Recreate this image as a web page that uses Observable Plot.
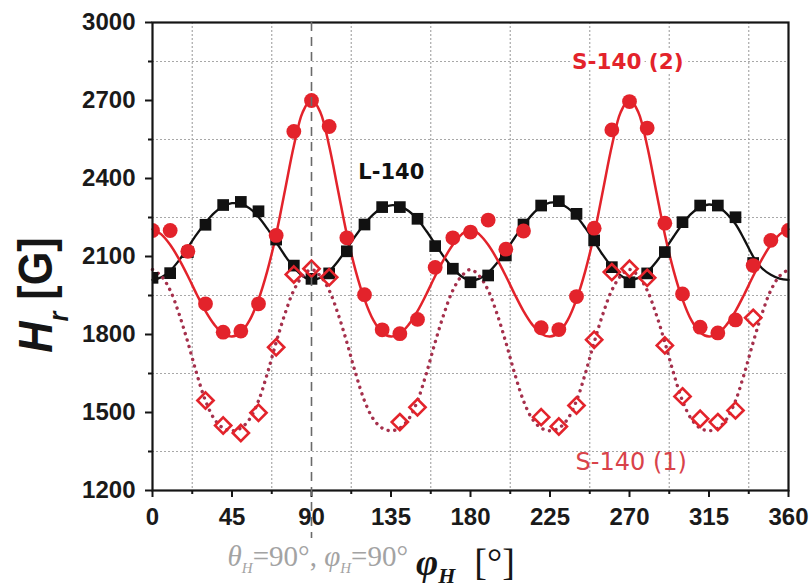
<!DOCTYPE html>
<html>
<head>
<meta charset="utf-8">
<script src="https://cdn.jsdelivr.net/npm/d3@7"></script>
<script src="https://cdn.jsdelivr.net/npm/@observablehq/plot@0.6"></script>
<style>
  html, body { margin: 0; padding: 0; background: #fff; }
  #chart { width: 810px; height: 587px; }
  svg { display: block; }
</style>
</head>
<body>
<div id="chart"></div>
<script>
// ---------- data ----------
// L-140 (black squares)
const l140Phi = [0,10,20,30,40,50,60,70,80,90,100,110,120,130,140,150,160,170,180,190,200,210,220,230,240,250,260,270,280,290,300,310,320,330,340];
const l140H   = [2018,2036,2117,2222,2298,2310,2274,2165,2065,2014,2035,2120,2223,2290,2290,2245,2140,2053,2001,2027,2104,2223,2296,2313,2264,2162,2059,2001,2035,2117,2232,2296,2296,2251,2075];

// S-140 (2) (red filled circles)
const s2Phi = [0,10,20,30,40,50,60,70,80,90,100,110,120,130,140,150,160,170,180,190,200,210,220,230,240,250,260,270,280,290,300,310,320,330,340,350,360];
const s2H   = [2200,2200,2120,1918,1809,1813,1918,2181,2581,2700,2600,2172,1953,1818,1803,1858,2058,2172,2194,2240,2128,2198,1826,1819,1946,2209,2587,2696,2594,2228,1956,1828,1806,1856,2065,2162,2200];

// S-140 (1) (open diamonds)
const s1Phi = [30,40,50,60,70,80,90,100,140,150,220,230,240,250,260,270,280,290,300,310,320,330,340];
const s1H   = [1546,1450,1421,1499,1751,2031,2053,2020,1463,1520,1482,1446,1527,1780,2040,2053,2018,1758,1562,1476,1463,1508,1864];

// fitted curves, read every 5 degrees
const fitPhi = [0,5,10,15,20,25,30,35,40,45,50,55,60,65,70,75,80,85,90,95,100,105,110,115,120,125,130,135,140,145,150,155,160,165,170,175,180,185,190,195,200,205,210,215,220,225,230,235,240,245,250,255,260,265,270,275,280,285,290,295,300,305,310,315,320,325,330,335,340,345,350,355,360];
const l140Fit = [2010,2020,2045,2085,2135,2185,2230,2268,2293,2305,2302,2285,2252,2207,2155,2103,2058,2025,2010,
                 2018,2043,2082,2130,2180,2225,2262,2287,2297,2293,2275,2243,2198,2148,2098,2055,2023,2008,
                 2015,2038,2075,2122,2172,2220,2262,2292,2307,2305,2287,2255,2210,2158,2105,2060,2027,2010,
                 2018,2040,2078,2125,2177,2225,2265,2290,2300,2292,2265,2225,2165,2100,2055,2030,2015,2010];
const s2Fit = [2205,2185,2145,2090,2025,1955,1890,1838,1803,1792,1808,1855,1935,2045,2185,2355,2525,2655,2705,
               2655,2525,2355,2185,2045,1935,1855,1808,1792,1803,1838,1890,1955,2025,2090,2145,2185,2205,
               2185,2145,2090,2025,1955,1890,1838,1803,1792,1808,1855,1935,2045,2185,2355,2525,2655,2705,
               2655,2525,2355,2185,2045,1935,1855,1808,1792,1803,1838,1890,1955,2025,2090,2145,2185,2205];
const s1Fit = [2050,2025,1970,1880,1770,1650,1545,1475,1440,1430,1440,1475,1545,1650,1770,1880,1970,2025,
               2050,2025,1970,1880,1770,1650,1545,1475,1440,1430,1440,1475,1545,1650,1770,1880,1970,2025,
               2050,2025,1970,1880,1770,1650,1545,1475,1440,1430,1440,1475,1545,1650,1770,1880,1970,2025,
               2050,2025,1970,1880,1770,1650,1545,1475,1440,1430,1440,1475,1545,1650,1770,1880,1970,2025,
               2050];

// ticks
const xMajor = [0,45,90,135,180,225,270,315,360];
const xMinor = [22.5,67.5,112.5,157.5,202.5,247.5,292.5,337.5];
const yMajor = [1200,1500,1800,2100,2400,2700,3000];
const yMinor = [1350,1650,1950,2250,2550,2850];

// guide line and series labels
const guidePhi = [90];
const guideFrom = [3000];
const guideTo = [1015];
const labelText = ["L-140", "S-140 (2)", "S-140 (1)"];
const labelPhi  = [116.5, 237.5, 239.5];
const labelH    = [2423, 2846, 1308];

// ---------- build tables ----------
const pts = (xs, ys) => xs.map((x, i) => ({phi: x, H: ys[i]}));
const l140 = pts(l140Phi, l140H);
const s2 = pts(s2Phi, s2H);
const s1 = pts(s1Phi, s1H);
const l140Curve = pts(fitPhi, l140Fit);
const s2Curve = pts(fitPhi, s2Fit);
const s1Curve = pts(fitPhi, s1Fit);
const guide = guidePhi.map((p, i) => ({phi: p, y1: guideFrom[i], y2: guideTo[i]}));
const labels = labelText.map((t, i) => ({text: t, phi: labelPhi[i], H: labelH[i]}));

const RED = "#e3232b";
const DOTRED = "#a5304c";
const SANS = "Liberation Sans, Arial, sans-serif";
const fmt = d3.format("d");

const svg = Plot.plot({
  width: 810,
  height: 587,
  marginLeft: 152,
  marginRight: 22,
  marginTop: 22,
  marginBottom: 97,
  style: {background: "#fff", color: "#151515", overflow: "visible"},
  x: {domain: [0, 360]},
  y: {domain: [1200, 3000]},
  marks: [
    Plot.ruleX(xMinor, {x: d => d, stroke: "#a8a8a8", strokeDasharray: "2 2", strokeWidth: 1.2}),
    Plot.ruleY(yMinor, {y: d => d, stroke: "#a8a8a8", strokeDasharray: "2 2", strokeWidth: 1.2}),
    Plot.line(l140Curve, {x: "phi", y: "H", curve: "catmull-rom", stroke: "#111", strokeWidth: 2.3}),
    Plot.line(s2Curve, {x: "phi", y: "H", curve: "catmull-rom", stroke: RED, strokeWidth: 2.5}),
    Plot.line(s1Curve, {x: "phi", y: "H", curve: "catmull-rom", stroke: DOTRED, strokeWidth: 3.4,
                        strokeDasharray: "0.1 6.6", strokeLinecap: "round"}),
    Plot.dot(l140, {x: "phi", y: "H", symbol: "square", r: 6.6, fill: "#111", stroke: "none", clip: true}),
    Plot.dot(s2, {x: "phi", y: "H", symbol: "circle", r: 7.4, fill: RED, stroke: "none", clip: true}),
    Plot.dot(s1, {x: "phi", y: "H", symbol: "diamond2", r: 7.3, fill: "none", stroke: RED, strokeWidth: 2.6}),
    Plot.text(labels.filter(d => d.text === "L-140"), {x: "phi", y: "H", text: "text", textAnchor: "start",
      fontFamily: "DejaVu Sans, sans-serif", fontWeight: "bold", fontSize: 21, fill: "#111"}),
    Plot.text(labels.filter(d => d.text === "S-140 (2)"), {x: "phi", y: "H", text: "text", textAnchor: "start",
      fontFamily: "DejaVu Sans, sans-serif", fontWeight: "bold", fontSize: 21.5, fill: RED, stroke: "#fff", strokeWidth: 8}),
    Plot.text(labels.filter(d => d.text === "S-140 (1)"), {x: "phi", y: "H", text: "text", textAnchor: "start",
      fontFamily: "DejaVu Sans, sans-serif", fontSize: 24, fill: "#d9434a"}),
    Plot.frame({stroke: "#151515", strokeWidth: 2.2}),
    Plot.axisY(yMajor, {tickSize: 7, tickPadding: 10, tickFormat: fmt, label: null, strokeWidth: 2,
      fontSize: 24, fontWeight: "bold", fontFamily: SANS, fill: "#1a1a1a"}),
    Plot.axisY(yMinor, {tickSize: 4, tickFormat: () => "", label: null, strokeWidth: 2}),
    Plot.axisX(xMajor, {tickSize: 7, tickPadding: 10, tickFormat: fmt, label: null, strokeWidth: 2,
      fontSize: 24, fontWeight: "bold", fontFamily: SANS, fill: "#1a1a1a"}),
    Plot.axisX(xMinor, {tickSize: 4, tickFormat: () => "", label: null, strokeWidth: 2}),
    Plot.ruleX(guide, {x: "phi", y1: "y1", y2: "y2", stroke: "#6a6a6a", strokeWidth: 1.6, strokeDasharray: "9 6"})
  ]
});

// axis titles (real text with subscripts)
const s = d3.select(svg);
const yl = s.append("text")
  .attr("transform", "translate(52,295) rotate(-90) scale(0.9,1)")
  .attr("text-anchor", "middle")
  .attr("font-family", SANS)
  .attr("font-weight", "bold")
  .attr("font-size", 48)
  .attr("fill", "#151515");
yl.append("tspan").attr("font-style", "italic").text("H");
yl.append("tspan").attr("font-style", "italic").attr("font-size", 28).attr("dy", 16).text("r");
yl.append("tspan").attr("dy", -16).text("\u00a0[G]");

const gray = s.append("text")
  .attr("x", 408).attr("y", 566)
  .attr("text-anchor", "end")
  .attr("font-family", "Liberation Serif, Times New Roman, serif")
  .attr("font-size", 29)
  .attr("fill", "#a3a3a3");
gray.append("tspan").attr("font-style", "italic").text("\u03b8");
gray.append("tspan").attr("font-style", "italic").attr("font-size", 15).attr("dy", 7).text("H");
gray.append("tspan").attr("dy", -7).text("=90\u00b0, ");
gray.append("tspan").attr("font-style", "italic").text("\u03c6");
gray.append("tspan").attr("font-style", "italic").attr("font-size", 15).attr("dy", 7).text("H");
gray.append("tspan").attr("dy", -7).text("=90\u00b0");

const xl = s.append("text")
  .attr("x", 416).attr("y", 575)
  .attr("text-anchor", "start")
  .attr("font-family", "Liberation Serif, Times New Roman, serif")
  .attr("font-size", 38)
  .attr("fill", "#151515");
xl.append("tspan").attr("font-style", "italic").attr("font-weight", "bold").text("\u03c6");
xl.append("tspan").attr("font-style", "italic").attr("font-weight", "bold").attr("font-size", 22).attr("dy", 8).text("H");
xl.append("tspan").attr("dy", -8).text("\u00a0\u00a0[\u00b0]");

document.getElementById("chart").append(svg);
</script>
</body>
</html>
